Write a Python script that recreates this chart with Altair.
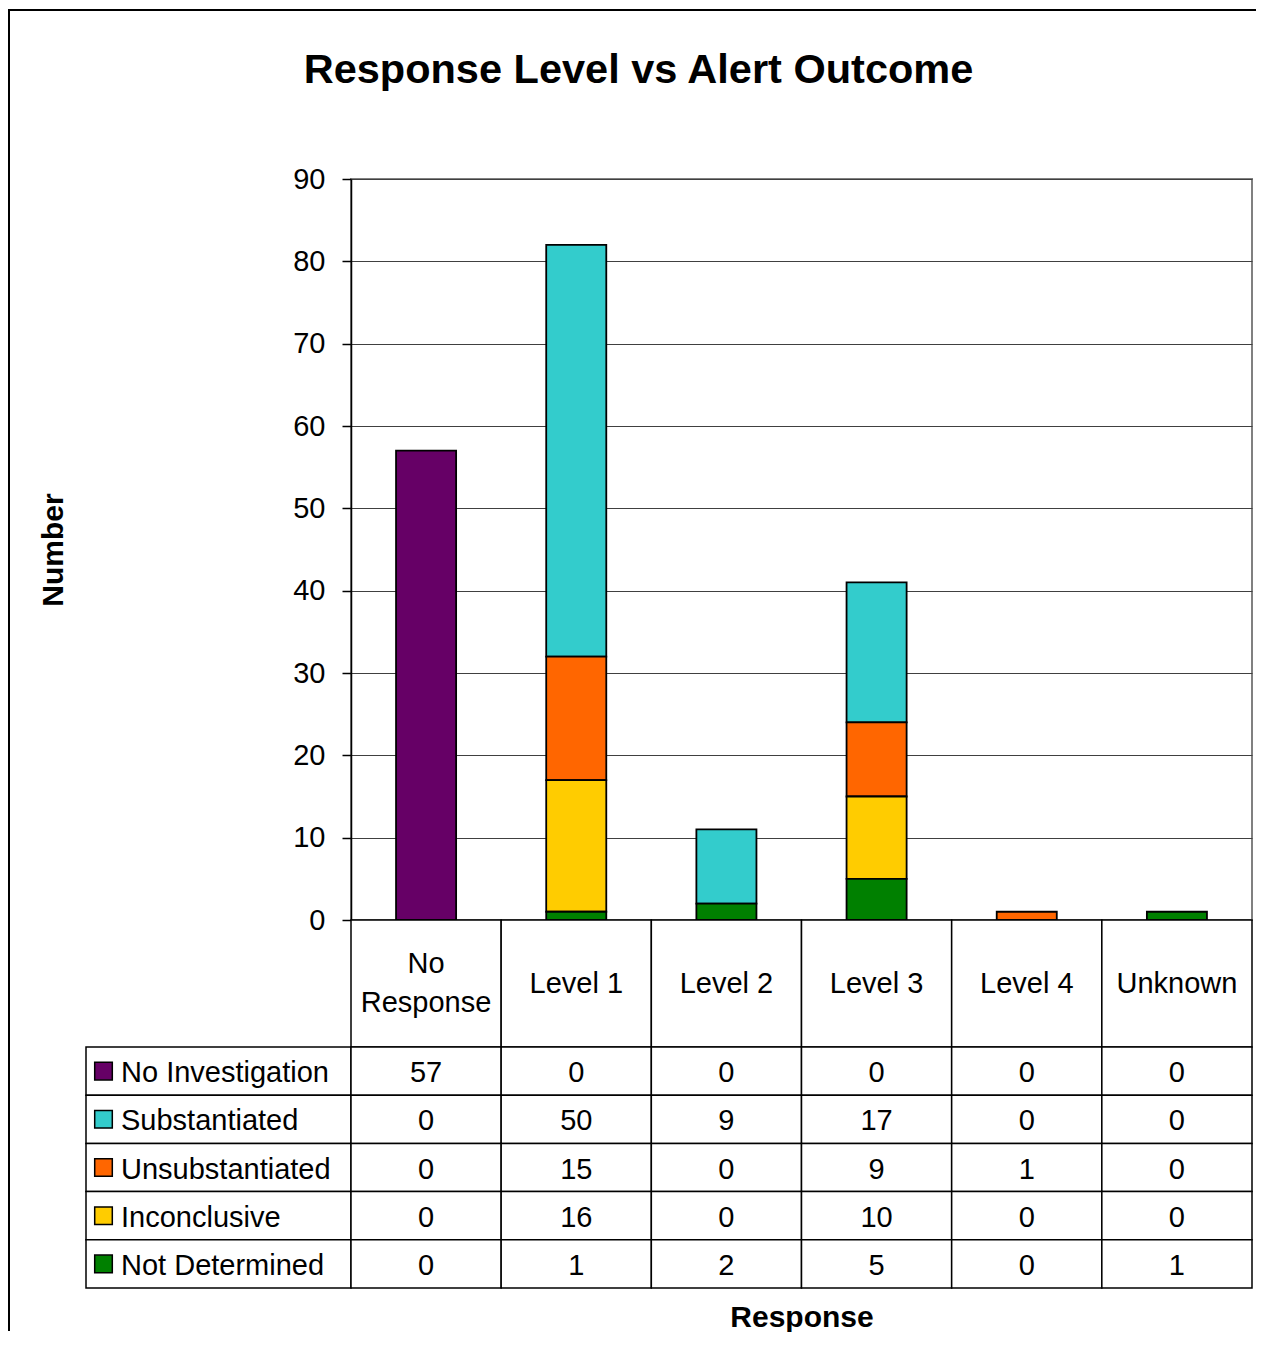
import altair as alt
import pandas as pd

# ---- data ----
categories = ["No Response", "Level 1", "Level 2", "Level 3", "Level 4", "Unknown"]
header_labels = ["No\nResponse", "Level 1", "Level 2", "Level 3", "Level 4", "Unknown"]
series = ["No Investigation", "Substantiated", "Unsubstantiated", "Inconclusive", "Not Determined"]
colors = ["#660066", "#33CCCC", "#FF6600", "#FFCC00", "#008000"]
no_investigation = [57, 0, 0, 0, 0, 0]
substantiated = [0, 50, 9, 17, 0, 0]
unsubstantiated = [0, 15, 0, 9, 1, 0]
inconclusive = [0, 16, 0, 10, 0, 0]
not_determined = [0, 1, 2, 5, 0, 1]
y_ticks = [0, 10, 20, 30, 40, 50, 60, 70, 80, 90]

values_by_series = [no_investigation, substantiated, unsubstantiated, inconclusive, not_determined]
rows = []
for si, (s, vals) in enumerate(zip(series, values_by_series)):
    for c, v in zip(categories, vals):
        rows.append({"series": s, "category": c, "value": v, "stack": len(series) - 1 - si})
df = pd.DataFrame(rows)
bar_df = df[df["value"] > 0]
header_df = pd.DataFrame({"category": categories, "label": header_labels,
                          "nlines": [lbl.count("\n") + 1 for lbl in header_labels]})
legend_df = pd.DataFrame({"series": series})
frame_df = pd.DataFrame({"k": [0]})

FONT = "Liberation Sans"
LINE = 1.5
color_scale = alt.Scale(domain=series, range=colors)

# ---- frame (top-left blank cell) ----
top_line = alt.Chart(frame_df).mark_rule(color="black", strokeWidth=2).encode(
    x=alt.value(-77), x2=alt.value(1170), y=alt.value(-169))
left_line = alt.Chart(frame_df).mark_rule(color="black", strokeWidth=2).encode(
    x=alt.value(-77), y=alt.value(-170), y2=alt.value(1152))
cell_a = alt.layer(top_line, left_line).properties(width=265, height=741)

# ---- stacked bars ----
bars = alt.Chart(bar_df).mark_bar(stroke="black", strokeWidth=1.8).encode(
    x=alt.X("category:N", sort=categories,
            scale=alt.Scale(paddingInner=0.6, paddingOuter=0.3), axis=None),
    y=alt.Y("value:Q", stack="zero", scale=alt.Scale(domain=[0, 90], nice=False),
            axis=alt.Axis(values=y_ticks, title="Number", labelFont=FONT, labelFontSize=29,
                          labelColor="black", labelPadding=17, tickSize=9, tickColor="black",
                          tickWidth=LINE, domainColor="black", domainWidth=LINE, grid=True,
                          gridColor="#404040", gridWidth=1.2, titleFont=FONT, titleFontSize=30,
                          titleFontWeight="bold", titleColor="black", titleAngle=270,
                          titleX=-297.5, titleY=370.5, titleAlign="center",
                          titleBaseline="middle")),
    color=alt.Color("series:N", scale=color_scale, legend=None),
    order=alt.Order("stack:Q"),
).properties(width=901, height=741,
             view=alt.ViewBackground(stroke="#808080", strokeWidth=2))

# ---- blank cell ----
cell_c = alt.Chart(frame_df).mark_point(opacity=0).encode(
    x=alt.value(0), y=alt.value(0)).properties(width=265, height=127)

# ---- header row ----
x_head = alt.X("category:N", sort=categories,
               scale=alt.Scale(paddingInner=0, paddingOuter=0), axis=None)
head_rect = alt.Chart(header_df).mark_rect(fill="white", stroke="black", strokeWidth=LINE).encode(x=x_head)
head_text1 = alt.Chart(header_df).transform_filter("datum.nlines == 1").mark_text(
    font=FONT, fontSize=29, color="black", baseline="middle", dy=0).encode(x=x_head, text="label:N")
head_text2 = alt.Chart(header_df).transform_filter("datum.nlines == 2").mark_text(
    font=FONT, fontSize=29, color="black", lineBreak="\n", lineHeight=39,
    baseline="middle", dy=-19.5).encode(x=x_head, text="label:N")
header = alt.layer(head_rect, head_text1, head_text2).properties(width=901, height=127)

# ---- legend column ----
y_leg = alt.Y("series:N", sort=series, scale=alt.Scale(paddingInner=0, paddingOuter=0), axis=None)
leg_rect = alt.Chart(legend_df).mark_rect(fill="white", stroke="black", strokeWidth=LINE).encode(y=y_leg)
leg_sq = alt.Chart(legend_df).mark_square(size=310, filled=True, opacity=1, stroke="black",
                                          strokeWidth=1.5).encode(
    x=alt.value(17.5), y=y_leg, color=alt.Color("series:N", scale=color_scale, legend=None))
leg_txt = alt.Chart(legend_df).mark_text(font=FONT, fontSize=29, color="black", align="left",
                                         baseline="middle", dy=2).encode(
    x=alt.value(35), y=y_leg, text="series:N")
legend_col = alt.layer(leg_rect, leg_sq, leg_txt).properties(width=265, height=241)

# ---- data table ----
x_tab = alt.X("category:N", sort=categories, scale=alt.Scale(paddingInner=0, paddingOuter=0),
              axis=alt.Axis(title="Response", labels=False, ticks=False, domain=False,
                            titleFont=FONT, titleFontSize=30, titleFontWeight="bold",
                            titleColor="black", titlePadding=14))
y_tab = alt.Y("series:N", sort=series, scale=alt.Scale(paddingInner=0, paddingOuter=0), axis=None)
cells = alt.Chart(df).mark_rect(fill="white", stroke="black", strokeWidth=LINE).encode(x=x_tab, y=y_tab)
nums = alt.Chart(df).mark_text(font=FONT, fontSize=29, color="black", baseline="middle", dy=2).encode(
    x=x_tab, y=y_tab, text="value:Q")
table = alt.layer(cells, nums).properties(width=901, height=241)

chart = alt.concat(
    cell_a, bars, cell_c, header, legend_col, table,
    columns=2, spacing=0, bounds="flush", align="each",
    title=alt.TitleParams("Response Level vs Alert Outcome", font=FONT, fontSize=41.5,
                          fontWeight="bold", color="black", anchor="middle",
                          frame="bounds", offset=-83, dx=6),
).resolve_scale(x="independent", y="independent").properties(padding=0).configure_view(stroke=None)

chart.save("out.html", embed_options={"renderer": "svg", "actions": False})
